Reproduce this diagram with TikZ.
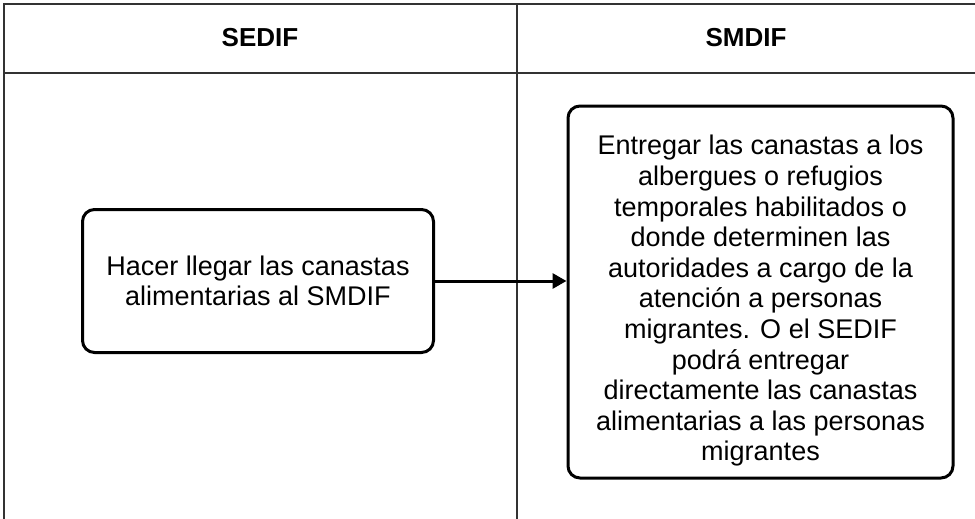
\documentclass[tikz,border=0pt]{standalone}
\usepackage{fontspec}
\setmainfont{Liberation Sans}
\usetikzlibrary{arrows.meta}

\tikzset{
  lane/.style={draw=black!80, line width=1.2pt},
  titulo/.style={font=\fontsize{26}{30}\selectfont\bfseries},
  texto/.style={align=center, font=\fontsize{27}{30.6}\selectfont, inner sep=0pt},
  proceso/.style={draw=black, line width=3pt, rounded corners=12pt, texto},
  flecha/.style={line width=3pt, -{Triangle[length=14pt,width=15pt]}}
}

\begin{document}
\begin{tikzpicture}[x=1pt,y=-1pt]
  \useasboundingbox (0,0) rectangle (975,519);
  % carriles
  \draw[lane] (4,519) -- (4,4) -- (980,4);
  \draw[lane] (4,73) -- (980,73);
  \draw[lane] (517,4) -- (517,519);
  \node[titulo] (sedif) at (260,38) {SEDIF};
  \node[titulo] (smdif) at (746,38) {SMDIF};

  % actividades
  \node[proceso, minimum width=351pt, minimum height=143pt] (hacer) at (258,281)
    {Hacer llegar las canastas\\alimentarias al SMDIF};
  \node[proceso, minimum width=385pt, minimum height=372pt,
    label={[texto, yshift=-9pt]center:{Entregar las canastas a los\\albergues o refugios\\temporales habilitados o\\donde determinen las\\autoridades a cargo de la\\atenci\'on a personas\\migrantes. O el SEDIF\\podr\'a entregar\\directamente las canastas\\alimentarias a las personas\\migrantes}}]
    (entregar) at (760.5,292) {};

  \draw[flecha] (hacer.east) -- (hacer.east -| entregar.west);
\end{tikzpicture}
\end{document}
